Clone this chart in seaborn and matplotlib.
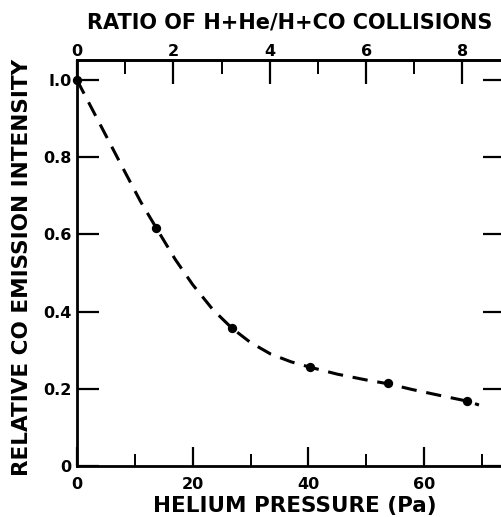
import matplotlib
matplotlib.use("Agg")
import matplotlib.pyplot as plt
import seaborn as sns
import pandas as pd
from matplotlib.ticker import MultipleLocator

# Data
pressure = [0.0, 13.7, 26.8, 40.3, 53.8, 67.5]
intensity = [1.0, 0.617, 0.357, 0.256, 0.215, 0.168]

# dashed fit curve
curve_p = [0.0, 4.0, 8.0, 11.0, 13.7, 17.0, 20.0, 23.5, 26.8, 30.0, 33.5, 37.0, 40.3, 45.0, 50.0, 53.8, 58.0, 63.0, 67.5, 69.5]
curve_i = [1.0, 0.885, 0.77, 0.685, 0.617, 0.535, 0.47, 0.405, 0.357, 0.32, 0.29, 0.27, 0.256, 0.238, 0.223, 0.213, 0.198, 0.182, 0.168, 0.158]

# ratio of H+He / H+CO collisions per Pa of helium
ratio_per_pa = 1 / 8.33

x_ticks = [0, 20, 40, 60]
y_ticks = [0, 0.2, 0.4, 0.6, 0.8, 1.0]
y_ticklabels = ["0", "0.2", "0.4", "0.6", "0.8", "I.0"]
top_ticks = [0, 2, 4, 6, 8]

sns.set_style("ticks")
plt.rcParams["font.family"] = ["DejaVu Sans"]
plt.rcParams["font.weight"] = "bold"
plt.rcParams["text.color"] = "black"
plt.rcParams["axes.labelcolor"] = "black"
plt.rcParams["xtick.color"] = "black"
plt.rcParams["ytick.color"] = "black"

fig = plt.figure(figsize=(5.01, 5.17), dpi=100)
ax = fig.add_axes([77 / 501, 51 / 517, 428 / 501, 406 / 517])

df_pts = pd.DataFrame({"p": pressure, "i": intensity})
df_curve = pd.DataFrame({"p": curve_p, "i": curve_i})

sns.lineplot(data=df_curve, x="p", y="i", ax=ax, color="black", lw=2.2,
             linestyle=(0, (5, 3.2)), sort=False, clip_on=False)
sns.scatterplot(data=df_pts, x="p", y="i", ax=ax, color="black", s=45,
                edgecolor="black", linewidth=0, zorder=5, clip_on=False)

ax.set_xlim(0, 74.0)
ax.set_ylim(0, 1.052)

for s in ax.spines.values():
    s.set_linewidth(2.0)
    s.set_color("black")

ax.set_xticks(x_ticks)
ax.xaxis.set_minor_locator(MultipleLocator(10))
ax.set_yticks(y_ticks)
ax.set_yticklabels(y_ticklabels)
ax.tick_params(axis="x", which="major", direction="in", length=14, width=1.6,
               labelsize=11.5, pad=8)
ax.tick_params(axis="x", which="minor", direction="in", length=9, width=1.4)
ax.tick_params(axis="y", which="major", direction="in", length=16, width=1.6,
               labelsize=11.5, pad=4, right=True)

top = ax.secondary_xaxis("top", functions=(lambda p: p * ratio_per_pa,
                                           lambda r: r / ratio_per_pa))
top.set_xticks(top_ticks)
top.xaxis.set_minor_locator(MultipleLocator(1))
top.tick_params(axis="x", which="major", direction="in", length=17, width=1.6,
                labelsize=11.5, pad=1)
top.tick_params(axis="x", which="minor", direction="in", length=10, width=1.4)
top.spines["top"].set_linewidth(2.0)

fig.text(290 / 501, 1 - 23 / 517, "RATIO OF H+He/H+CO COLLISIONS",
         fontsize=15, fontweight="bold", ha="center", va="center")

ax.set_xlabel("HELIUM PRESSURE (Pa)", fontsize=15.5, fontweight="bold")
ax.xaxis.set_label_coords(0.51, -0.073)
ax.set_ylabel("RELATIVE CO EMISSION INTENSITY", fontsize=15.5, fontweight="bold")
ax.yaxis.set_label_coords(-0.105, 0.49)

fig.savefig("out.png", dpi=100)
